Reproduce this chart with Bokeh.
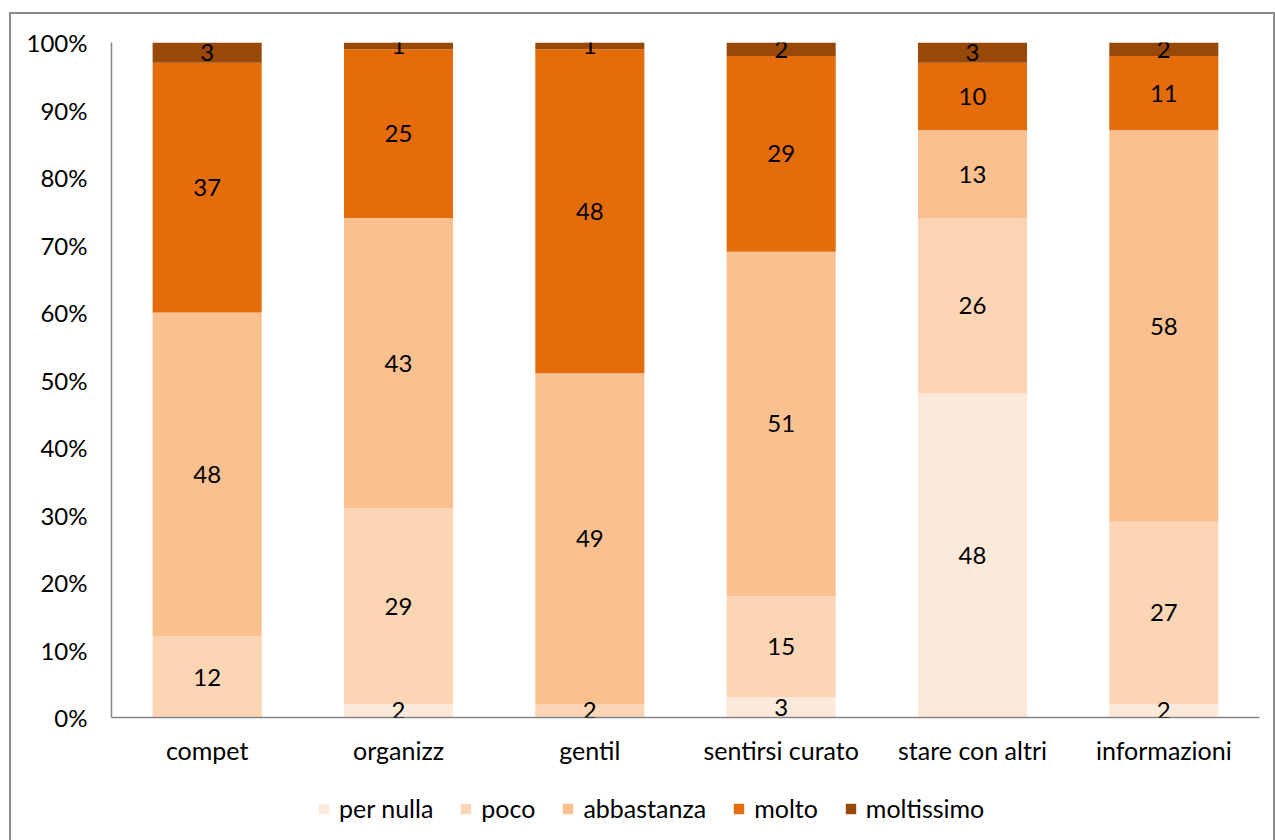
from bokeh.plotting import figure
from bokeh.models import (ColumnDataSource, FactorRange, Range1d, NumeralTickFormatter,
                          Legend, LegendItem, LabelSet, FixedTicker)
from bokeh.layouts import column
from bokeh.core.properties import value
from bokeh.embed import file_html
from bokeh.resources import INLINE

categories = ["compet", "organizz", "gentil", "sentirsi curato", "stare con altri", "informazioni"]
per_nulla = [0, 2, 0, 3, 48, 2]
poco = [12, 29, 2, 15, 26, 27]
abbastanza = [48, 43, 49, 51, 13, 58]
molto = [37, 25, 48, 29, 10, 11]
moltissimo = [3, 1, 1, 2, 3, 2]
series_names = ["per nulla", "poco", "abbastanza", "molto", "moltissimo"]
y_ticks = [0, 0.1, 0.2, 0.3, 0.4, 0.5, 0.6, 0.7, 0.8, 0.9, 1.0]

colors = ["#FDE9D9", "#FCD5B4", "#FAC090", "#E46C0A", "#984807"]
FONT = "Lato"
FS = "24px"

series = [per_nulla, poco, abbastanza, molto, moltissimo]
keys = ["s0", "s1", "s2", "s3", "s4"]
data = {"cat": categories}
for k, s in zip(keys, series):
    data[k] = [v / 100 for v in s]
src = ColumnDataSource(data)

p = figure(x_range=FactorRange(*categories), y_range=Range1d(0, 1),
           width=1262, height=761, output_backend="svg", toolbar_location=None,
           min_border_left=100, min_border_right=14, min_border_top=28, min_border_bottom=58)
p.outline_line_color = None
p.grid.grid_line_color = None

renderers = p.vbar_stack(keys, x="cat", width=0.57, color=colors, line_color=None, source=src)

lx, ly, lt = [], [], []
for i, c in enumerate(categories):
    base = 0
    for s in series:
        v = s[i]
        if v > 0:
            lx.append(c)
            ly.append((base + v / 2) / 100)
            lt.append(str(v))
        base += v
lsrc = ColumnDataSource(dict(x=lx, y=ly, t=lt))
labels = LabelSet(x="x", y="y", text="t", source=lsrc, text_align="center", text_baseline="middle",
                  text_font=value(FONT), text_font_size=FS, text_color="#000000")
p.add_layout(labels)

p.yaxis.ticker = FixedTicker(ticks=y_ticks)
p.yaxis.formatter = NumeralTickFormatter(format="0%")
for ax in (p.xaxis, p.yaxis):
    ax.axis_line_color = "#868686"
    ax.axis_line_width = 1.5
    ax.major_tick_line_color = None
    ax.minor_tick_line_color = None
    ax.major_label_text_font = FONT
    ax.major_label_text_font_size = FS
    ax.major_label_text_color = "#000000"
p.xaxis.major_label_text_font_size = "25px"
p.yaxis.major_label_standoff = 18
p.xaxis.major_label_standoff = 11

# legend strip below the chart (swatch renderers sit outside the visible range)
pl = figure(x_range=Range1d(0, 1), y_range=Range1d(0, 1), width=1262, height=65,
            output_backend="svg", toolbar_location=None, x_axis_type=None, y_axis_type=None,
            min_border_left=0, min_border_right=0, min_border_top=0, min_border_bottom=0)
pl.outline_line_color = None
pl.grid.grid_line_color = None
items = []
for name, c in zip(series_names, colors):
    r = pl.rect(x=[-5], y=[-5], width=0.1, height=0.1, fill_color=c, line_color=None)
    items.append(LegendItem(label=name, renderers=[r]))
legend = Legend(items=items, orientation="horizontal", location=(206, 17),
                label_text_font=FONT, label_text_font_size="25px", label_text_color="#000000",
                glyph_width=13, glyph_height=13, spacing=26, label_standoff=9,
                border_line_color=None, background_fill_alpha=0, padding=0, margin=0)
pl.add_layout(legend, "center")

layout = column(p, pl, spacing=0,
                styles={"margin-left": "9px", "margin-top": "12px", "border": "2px solid #8c8c8c"})

open("out.html", "w").write(file_html(layout, INLINE))
